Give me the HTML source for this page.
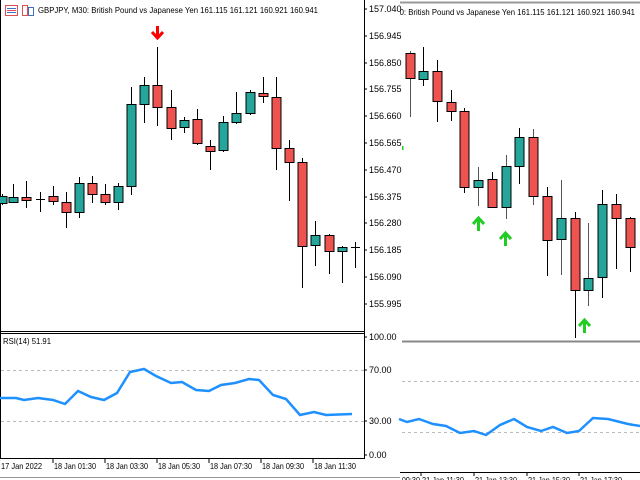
<!DOCTYPE html>
<html><head><meta charset="utf-8"><style>
html,body{margin:0;padding:0;background:#fff;width:640px;height:480px;overflow:hidden}
svg{display:block}
text{font-family:"Liberation Sans",sans-serif;font-size:9px;fill:#000}
.t{font-size:8.5px}
</style></head><body>
<svg width="640" height="480" viewBox="0 0 640 480" xmlns="http://www.w3.org/2000/svg" shape-rendering="crispEdges">
<defs><clipPath id="rc"><rect x="400" y="0" width="240" height="480"/></clipPath></defs>
<!-- left frames -->
<line x1="0.5" y1="0" x2="0.5" y2="459" stroke="#000"/>
<line x1="364.5" y1="0" x2="364.5" y2="459" stroke="#000"/>
<line x1="0" y1="331.5" x2="364" y2="331.5" stroke="#000"/>
<line x1="0" y1="333.5" x2="364" y2="333.5" stroke="#000"/>
<line x1="0" y1="458.5" x2="364" y2="458.5" stroke="#000"/>
<line x1="0" y1="477.5" x2="400" y2="477.5" stroke="#999"/>
<!-- price labels -->
<g>
<line x1="364" y1="9" x2="367" y2="9" stroke="#000"/><text x="369" y="12">157.040</text>
<line x1="364" y1="36" x2="367" y2="36" stroke="#000"/><text x="369" y="39">156.945</text>
<line x1="364" y1="63" x2="367" y2="63" stroke="#000"/><text x="369" y="66">156.850</text>
<line x1="364" y1="89" x2="367" y2="89" stroke="#000"/><text x="369" y="92">156.755</text>
<line x1="364" y1="116" x2="367" y2="116" stroke="#000"/><text x="369" y="119">156.660</text>
<line x1="364" y1="143" x2="367" y2="143" stroke="#000"/><text x="369" y="146">156.565</text>
<line x1="364" y1="170" x2="367" y2="170" stroke="#000"/><text x="369" y="173">156.470</text>
<line x1="364" y1="197" x2="367" y2="197" stroke="#000"/><text x="369" y="200">156.375</text>
<line x1="364" y1="223" x2="367" y2="223" stroke="#000"/><text x="369" y="226">156.280</text>
<line x1="364" y1="250" x2="367" y2="250" stroke="#000"/><text x="369" y="253">156.185</text>
<line x1="364" y1="277" x2="367" y2="277" stroke="#000"/><text x="369" y="280">156.090</text>
<line x1="364" y1="304" x2="367" y2="304" stroke="#000"/><text x="369" y="307">155.995</text>
<line x1="364" y1="337" x2="367" y2="337" stroke="#000"/><text x="369" y="340">100.00</text>
<line x1="364" y1="370" x2="367" y2="370" stroke="#000"/><text x="369" y="373">70.00</text>
<line x1="364" y1="421" x2="367" y2="421" stroke="#000"/><text x="369" y="424">30.00</text>
<line x1="364" y1="455" x2="367" y2="455" stroke="#000"/><text x="369" y="458">0.00</text>
</g>
<!-- time labels -->
<g class="t">
<text class="t" x="1" y="469" textLength="41" lengthAdjust="spacingAndGlyphs">17 Jan 2022</text>
<line x1="53" y1="459" x2="53" y2="463" stroke="#000"/><text class="t" x="54" y="469" textLength="42" lengthAdjust="spacingAndGlyphs">18 Jan 01:30</text>
<line x1="105" y1="459" x2="105" y2="463" stroke="#000"/><text class="t" x="106" y="469" textLength="42" lengthAdjust="spacingAndGlyphs">18 Jan 03:30</text>
<line x1="157" y1="459" x2="157" y2="463" stroke="#000"/><text class="t" x="158" y="469" textLength="42" lengthAdjust="spacingAndGlyphs">18 Jan 05:30</text>
<line x1="209" y1="459" x2="209" y2="463" stroke="#000"/><text class="t" x="210" y="469" textLength="42" lengthAdjust="spacingAndGlyphs">18 Jan 07:30</text>
<line x1="261" y1="459" x2="261" y2="463" stroke="#000"/><text class="t" x="262" y="469" textLength="42" lengthAdjust="spacingAndGlyphs">18 Jan 09:30</text>
<line x1="313" y1="459" x2="313" y2="463" stroke="#000"/><text class="t" x="314" y="469" textLength="42" lengthAdjust="spacingAndGlyphs">18 Jan 11:30</text>
</g>
<!-- header -->
<rect x="5.5" y="5.5" width="12" height="10" fill="#fff" stroke="#e05050"/>
<line x1="7" y1="8.5" x2="16" y2="8.5" stroke="#4070c0"/><line x1="7" y1="10.5" x2="16" y2="10.5" stroke="#e05050"/><line x1="7" y1="12.5" x2="16" y2="12.5" stroke="#4070c0"/>
<rect x="22.5" y="5.5" width="5" height="10" fill="#fff" stroke="#e05050"/>
<rect x="28.5" y="7.5" width="5" height="8" fill="#fff" stroke="#4070c0"/>
<text class="t" x="38" y="13" textLength="280" lengthAdjust="spacingAndGlyphs">GBPJPY, M30:  British Pound vs Japanese Yen  161.115 161.121 160.921 160.941</text>
<!-- left candles -->
<g stroke="#000" stroke-width="1">
<line x1="2.5" y1="194" x2="2.5" y2="205"/><rect x="-2" y="196.5" width="9" height="7" fill="#26a69a"/>
<line x1="13.5" y1="184" x2="13.5" y2="203"/><rect x="9" y="197.5" width="9" height="5" fill="#26a69a"/>
<line x1="26.5" y1="181" x2="26.5" y2="208"/><rect x="22" y="197.5" width="9" height="3" fill="#ef5350"/>
<line x1="40.5" y1="192" x2="40.5" y2="212"/><line x1="36" y1="199.5" x2="45" y2="199.5"/>
<line x1="53.5" y1="186" x2="53.5" y2="205"/><rect x="49" y="196.5" width="9" height="5" fill="#ef5350"/>
<line x1="66.5" y1="192" x2="66.5" y2="228"/><rect x="62" y="202.5" width="9" height="10" fill="#ef5350"/>
<line x1="79.5" y1="177" x2="79.5" y2="218"/><rect x="75" y="183.5" width="9" height="29" fill="#26a69a"/>
<line x1="92.5" y1="176" x2="92.5" y2="203"/><rect x="88" y="183.5" width="9" height="11" fill="#ef5350"/>
<line x1="105.5" y1="184" x2="105.5" y2="205"/><rect x="101" y="194.5" width="9" height="8" fill="#ef5350"/>
<line x1="118.5" y1="183" x2="118.5" y2="210"/><rect x="114" y="186.5" width="9" height="16" fill="#26a69a"/>
<line x1="131.5" y1="87" x2="131.5" y2="195"/><rect x="127" y="104.5" width="9" height="82" fill="#26a69a"/>
<line x1="144.5" y1="77" x2="144.5" y2="123"/><rect x="140" y="85.5" width="9" height="19" fill="#26a69a"/>
<line x1="157.5" y1="47" x2="157.5" y2="126"/><rect x="153" y="85.5" width="9" height="22" fill="#ef5350"/>
<line x1="171.5" y1="90" x2="171.5" y2="140"/><rect x="167" y="107.5" width="9" height="21" fill="#ef5350"/>
<line x1="184.5" y1="117" x2="184.5" y2="133"/><rect x="180" y="120.5" width="9" height="7" fill="#26a69a"/>
<line x1="197.5" y1="109" x2="197.5" y2="145"/><rect x="193" y="119.5" width="9" height="24" fill="#ef5350"/>
<line x1="210.5" y1="140" x2="210.5" y2="170"/><rect x="206" y="146.5" width="9" height="5" fill="#ef5350"/>
<line x1="223.5" y1="116" x2="223.5" y2="152"/><rect x="219" y="122.5" width="9" height="28" fill="#26a69a"/>
<line x1="236.5" y1="92" x2="236.5" y2="124"/><rect x="232" y="113.5" width="9" height="9" fill="#26a69a"/>
<line x1="250.5" y1="90" x2="250.5" y2="115"/><rect x="246" y="92.5" width="9" height="21" fill="#26a69a"/>
<line x1="263.5" y1="77" x2="263.5" y2="103"/><rect x="259" y="93.5" width="9" height="3" fill="#ef5350"/>
<line x1="276.5" y1="77" x2="276.5" y2="170"/><rect x="272" y="97.5" width="9" height="51" fill="#ef5350"/>
<line x1="289.5" y1="140" x2="289.5" y2="201"/><rect x="285" y="148.5" width="9" height="14" fill="#ef5350"/>
<line x1="302.5" y1="158" x2="302.5" y2="288"/><rect x="298" y="162.5" width="9" height="84" fill="#ef5350"/>
<line x1="315.5" y1="221" x2="315.5" y2="266"/><rect x="311" y="235.5" width="9" height="10" fill="#26a69a"/>
<line x1="329.5" y1="234" x2="329.5" y2="274"/><rect x="325" y="235.5" width="9" height="16" fill="#ef5350"/>
<line x1="342.5" y1="246" x2="342.5" y2="283"/><rect x="338" y="247.5" width="9" height="4" fill="#26a69a"/>
<line x1="355.5" y1="242" x2="355.5" y2="268"/><line x1="351" y1="247.5" x2="360" y2="247.5"/>
</g>
<!-- red down arrow -->
<g shape-rendering="auto"><line x1="157.5" y1="26" x2="157.5" y2="38" stroke="#f00" stroke-width="3"/><polyline points="152,32 157.5,38 163,32" fill="none" stroke="#f00" stroke-width="3"/></g>
<!-- left RSI -->
<line x1="1" y1="370.5" x2="364" y2="370.5" stroke="#bbb" stroke-dasharray="3,3"/>
<line x1="1" y1="421.5" x2="364" y2="421.5" stroke="#bbb" stroke-dasharray="3,3"/>
<text class="t" x="3" y="344" textLength="48" lengthAdjust="spacingAndGlyphs">RSI(14) 51.91</text>
<polyline shape-rendering="auto" fill="none" stroke="#1e90ff" stroke-width="2.5" points="0,398 16,398 24,400 38,398 53,400 65,404 78,391 91,397 104,400 117,393 130,372 144,369 156,376 171,383 182,382 196,390 209,391 221,385 235,383 249,379 259,380 273,395 286,399 300,415 314,412 326,415 352,414"/>
<!-- right panel -->
<line x1="400" y1="2.5" x2="640" y2="2.5" stroke="#999" stroke-width="2"/>
<g clip-path="url(#rc)"><text class="t" x="355" y="15" textLength="280" lengthAdjust="spacingAndGlyphs">GBPJPY, M30:  British Pound vs Japanese Yen  161.115 161.121 160.921 160.941</text></g>
<rect x="402" y="146" width="1.5" height="4" fill="#2c2"/>
<g stroke="#000" stroke-width="1">
<line x1="410.5" y1="51" x2="410.5" y2="117" stroke="#555"/><rect x="406" y="53.5" width="9" height="25" fill="#ef5350"/>
<line x1="423.5" y1="47" x2="423.5" y2="86"/><rect x="419" y="71.5" width="9" height="8" fill="#26a69a"/>
<line x1="437.5" y1="60" x2="437.5" y2="122"/><rect x="433" y="71.5" width="9" height="30" fill="#ef5350"/>
<line x1="451.5" y1="90" x2="451.5" y2="121"/><rect x="447" y="102.5" width="9" height="9" fill="#ef5350"/>
<line x1="464.5" y1="108" x2="464.5" y2="193"/><rect x="460" y="111.5" width="9" height="76" fill="#ef5350"/>
<line x1="478.5" y1="167" x2="478.5" y2="206" stroke="#555"/><rect x="474" y="180.5" width="9" height="7" fill="#26a69a"/>
<line x1="492.5" y1="172" x2="492.5" y2="207"/><rect x="488" y="179.5" width="9" height="28" fill="#ef5350"/>
<line x1="506.5" y1="155" x2="506.5" y2="219" stroke="#555"/><rect x="502" y="166.5" width="9" height="41" fill="#26a69a"/>
<line x1="519.5" y1="128" x2="519.5" y2="184"/><rect x="515" y="137.5" width="9" height="29" fill="#26a69a"/>
<line x1="533.5" y1="129" x2="533.5" y2="205" stroke="#555"/><rect x="529" y="137.5" width="9" height="59" fill="#ef5350"/>
<line x1="547.5" y1="187" x2="547.5" y2="276"/><rect x="543" y="196.5" width="9" height="44" fill="#ef5350"/>
<line x1="561.5" y1="180" x2="561.5" y2="275" stroke="#555"/><rect x="557" y="218.5" width="9" height="21" fill="#26a69a"/>
<line x1="575.5" y1="212" x2="575.5" y2="338"/><rect x="571" y="218.5" width="9" height="72" fill="#ef5350"/>
<line x1="588.5" y1="223" x2="588.5" y2="306" stroke="#555"/><rect x="584" y="278.5" width="9" height="12" fill="#26a69a"/>
<line x1="602.5" y1="190" x2="602.5" y2="298"/><rect x="598" y="204.5" width="9" height="73" fill="#26a69a"/>
<line x1="616.5" y1="194" x2="616.5" y2="269"/><rect x="612" y="204.5" width="9" height="14" fill="#ef5350"/>
<line x1="630.5" y1="217" x2="630.5" y2="272"/><rect x="626" y="218.5" width="9" height="29" fill="#ef5350"/>
</g>
<g shape-rendering="auto" fill="none" stroke="#22cc22" stroke-width="3">
<line x1="478.5" y1="218" x2="478.5" y2="231"/><polyline points="473,224 478.5,218 484,224"/>
<line x1="505.5" y1="233" x2="505.5" y2="246"/><polyline points="500,239 505.5,233 511,239"/>
<line x1="584.5" y1="320" x2="584.5" y2="333"/><polyline points="579,326 584.5,320 590,326"/>
</g>
<line x1="402" y1="341.5" x2="640" y2="341.5" stroke="#888" stroke-width="2"/>
<line x1="402" y1="381.5" x2="640" y2="381.5" stroke="#bbb" stroke-dasharray="3,3"/>
<line x1="402" y1="432.5" x2="640" y2="432.5" stroke="#bbb" stroke-dasharray="3,3"/>
<polyline shape-rendering="auto" fill="none" stroke="#1e90ff" stroke-width="2.5" points="399,419 407,422 419,419 433,424 446,426 460,433 474,431 486,435 500,425 514,419 527,427 541,431 553,427 567,433 579,431 593,418 608,419 628,424 640,426"/>
<line x1="400" y1="472.5" x2="640" y2="472.5" stroke="#000"/>
<g clip-path="url(#rc)">
<text class="t" x="378" y="483" textLength="42" lengthAdjust="spacingAndGlyphs">21 Jan 09:30</text>
<line x1="421" y1="472" x2="421" y2="476" stroke="#000"/><text class="t" x="422" y="483" textLength="42" lengthAdjust="spacingAndGlyphs">21 Jan 11:30</text>
<line x1="474" y1="472" x2="474" y2="476" stroke="#000"/><text class="t" x="475" y="483" textLength="42" lengthAdjust="spacingAndGlyphs">21 Jan 13:30</text>
<line x1="527" y1="472" x2="527" y2="476" stroke="#000"/><text class="t" x="528" y="483" textLength="42" lengthAdjust="spacingAndGlyphs">21 Jan 15:30</text>
<line x1="579" y1="472" x2="579" y2="476" stroke="#000"/><text class="t" x="580" y="483" textLength="42" lengthAdjust="spacingAndGlyphs">21 Jan 17:30</text>
</g>
</svg>
</body></html>
